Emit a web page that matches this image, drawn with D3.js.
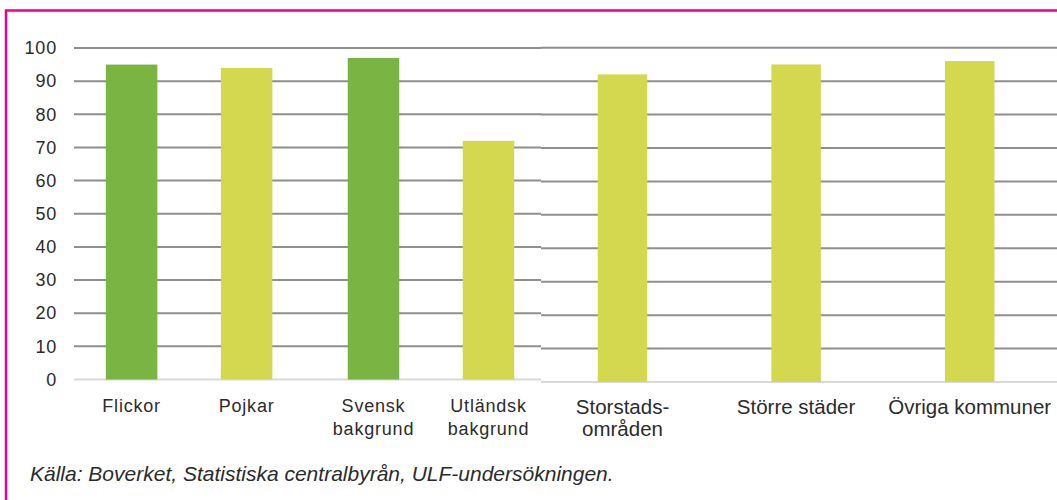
<!DOCTYPE html>
<html>
<head>
<meta charset="utf-8">
<script src="https://cdn.jsdelivr.net/npm/d3@7"></script>
<style>
  body { margin: 0; background: #fff; }
  svg { display: block; }
  text { font-family: "Liberation Sans", Arial, sans-serif; fill: #2b2b2b; }
</style>
</head>
<body>
<div id="chart"></div>
<script>
// Data
const categoriesLeft = ["Flickor", "Pojkar", "Svensk\nbakgrund", "Utländsk\nbakgrund"];
const groupsLeft = ["Kön", "Kön", "Bakgrund", "Bakgrund"];
const valuesLeft = [95, 94, 97, 72];
const categoriesRight = ["Storstads-\nområden", "Större städer", "Övriga kommuner"];
const valuesRight = [92, 95, 96];
const tickValues = [0, 10, 20, 30, 40, 50, 60, 70, 80, 90, 100];
const source = "Källa: Boverket, Statistiska centralbyrån, ULF-undersökningen.";

const width = 1057, height = 500;
const green = "#7ab443", yellow = "#d3d84e";

const svg = d3.select("#chart")
    .append("svg")
    .attr("width", width)
    .attr("height", height);

// ram
svg.append("rect")
    .attr("x", 6)
    .attr("y", 10.5)
    .attr("width", width + 20)
    .attr("height", height + 20)
    .attr("fill", "none")
    .attr("stroke", "#ec008c")
    .attr("stroke-width", 2.5);

// vänster panel: två grupper med två staplar vardera
const yLeft = d3.scaleLinear().domain([0, 100]).range([379.5, 48]);
const xGroup = d3.scalePoint().domain(["Kön", "Bakgrund"]).range([189.1, 431]);
const xInner = d3.scalePoint().domain([0, 1]).range([-57.5, 57.5]);
const xLeft = d => {
    const i = categoriesLeft.indexOf(d);
    const g = groupsLeft[i];
    const k = groupsLeft.slice(0, i).filter(e => e === g).length;
    return xGroup(g) + xInner(k);
};
const colorLeft = d3.scaleOrdinal().domain(categoriesLeft).range([green, yellow, green, yellow]);

// höger panel
const yRight = d3.scaleLinear().domain([0, 100]).range([382, 47.7]);
const xRight = d3.scalePoint().domain(categoriesRight).range([622.5, 969.7]);

function drawPanel(x, y, x0, x1, cats, vals, color, barW, fontSize, lineH) {
    const g = svg.append("g");
    // stödlinjer
    g.selectAll("line.grid")
        .data(tickValues)
        .join("line")
        .attr("class", "grid")
        .attr("x1", x0).attr("x2", x1)
        .attr("y1", d => y(d)).attr("y2", d => y(d))
        .attr("stroke", d => d === 0 ? "#d9d9d9" : "#8f8f8f")
        .attr("stroke-width", 2);

    g.selectAll("rect.bar")
        .data(cats)
        .join("rect")
        .attr("class", "bar")
        .attr("x", d => x(d) - barW / 2)
        .attr("width", barW)
        .attr("y", (d, i) => y(vals[i]))
        .attr("height", (d, i) => y(0) - y(vals[i]))
        .attr("fill", d => color(d));

    const lab = g.selectAll("text.cat")
        .data(cats)
        .join("text")
        .attr("class", "cat")
        .attr("text-anchor", "middle")
        .attr("font-size", fontSize)
        .attr("y", y(0) + 32);
    lab.each(function(d) {
        const t = d3.select(this);
        d.split("\n").forEach((line, i) => {
            t.append("tspan")
                .attr("x", x(d))
                .attr("dy", i === 0 ? 0 : lineH)
                .text(line);
        });
    });
    return lab;
}

drawPanel(xLeft, yLeft, 74, 541, categoriesLeft, valuesLeft, colorLeft, 51.5, 18, 23.3)
    .attr("letter-spacing", 0.8);
drawPanel(xRight, yRight, 541, width, categoriesRight, valuesRight, () => yellow, 49.5, 20.5, 22);

// y-axel
const yAxis = svg.append("g")
    .attr("transform", "translate(57,0)")
    .call(d3.axisLeft(yLeft).tickValues(tickValues).tickSize(0).tickPadding(0));
yAxis.select(".domain").remove();
yAxis.selectAll("text")
    .attr("font-size", 18)
    .attr("letter-spacing", 0.8)
    .attr("fill", "#2b2b2b")
    .style("font-family", "'Liberation Sans', Arial, sans-serif");

// källa
svg.append("text")
    .attr("x", 30)
    .attr("y", 481)
    .attr("font-size", 21)
    .attr("font-style", "italic")
    .text(source);
</script>
</body>
</html>
